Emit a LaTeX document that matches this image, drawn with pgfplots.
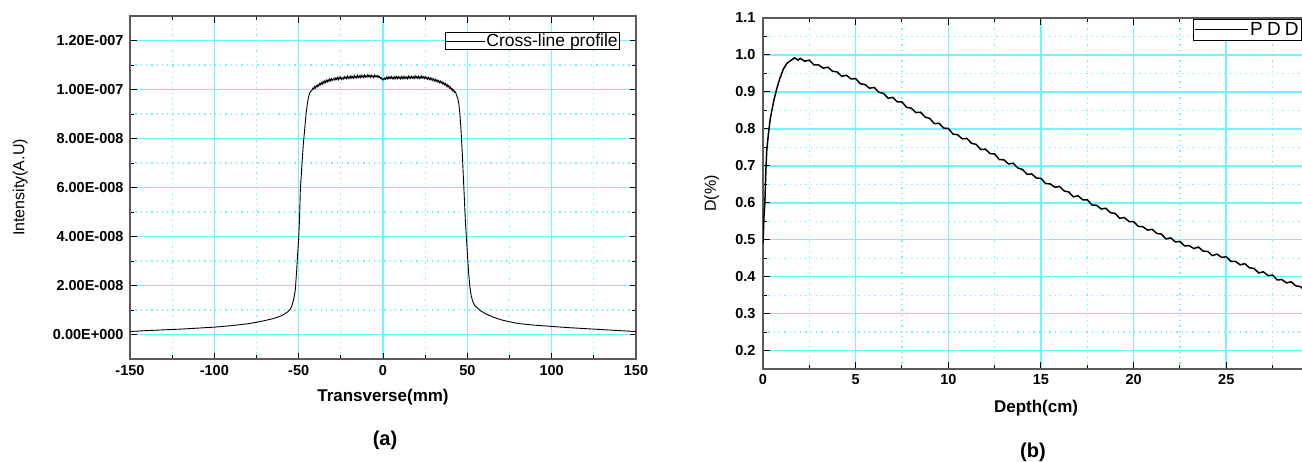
\documentclass[border=0pt]{standalone}
\usepackage{fontspec}
\setmainfont{Liberation Sans}
\usepackage{pgfplots}
\pgfplotsset{compat=1.18}
\definecolor{gridc}{RGB}{110,245,255}
\definecolor{axc}{RGB}{90,90,90}
\pgfplotsset{
  mystyle/.style={
    scale only axis,
    axis line style={axc, line width=1.3pt},
    major tick style={black, line width=1pt},
    minor tick style={black, line width=1pt},
    major tick length=6.5pt, minor tick length=4pt,
    tick align=inside,
    grid=both,
    every axis grid/.style={draw=gridc},
    major grid style={draw=gridc, line width=1.6pt},
    minor grid style={draw=gridc, line width=1.2pt, dash pattern=on 1.3pt off 4pt},
    /pgf/number format/assume math mode=true,
    ticklabel style={font=\fontsize{14.5}{14.5}\selectfont\bfseries},
  }
}
\pgfplotstableread{
x y
-150 0.12
-140 0.16
-130 0.19
-120 0.22
-110 0.26
-100 0.30
-90 0.36
-80 0.44
-75 0.50
-70 0.57
-65 0.65
-60 0.77
-57 0.90
-55 1.02
-54 1.18
-53 1.42
-52 1.82
-51.2 2.6
-50.5 3.4
-50 3.9
-49.5 4.7
-49 5.9
-48 7.0
-47.2 7.8
-46.4 8.4
-45.6 9.0
-45 9.35
-44.3 9.65
-43.5 9.85
-42.5 9.95
-42 9.98
-41.5 10.06
-41 10.02
-40.5 10.12
-40 10.06
-39.5 10.16
-39 10.11
-38.5 10.20
-38 10.14
-37.5 10.25
-37 10.19
-36.5 10.28
-36 10.22
-35.5 10.33
-35 10.25
-34.5 10.35
-34 10.28
-33.5 10.38
-33 10.31
-32.5 10.40
-32 10.33
-31.5 10.43
-31 10.35
-30.5 10.44
-30 10.37
-29 10.46
-28.5 10.38
-28 10.47
-27.5 10.41
-27 10.49
-26.5 10.40
-26 10.50
-25.5 10.43
-25 10.52
-24.5 10.41
-24 10.47
-23.5 10.43
-23 10.53
-22.5 10.45
-22 10.51
-21.5 10.44
-21 10.55
-20.5 10.46
-20 10.52
-19.5 10.45
-19 10.56
-18.5 10.47
-18 10.53
-17.5 10.46
-17 10.57
-16.5 10.48
-16 10.54
-15.5 10.47
-15 10.58
-14.5 10.49
-14 10.55
-13.5 10.48
-13 10.59
-12.5 10.50
-12 10.56
-11.5 10.49
-11 10.59
-10.5 10.51
-10 10.57
-9.5 10.50
-9 10.60
-8.5 10.52
-8 10.57
-7.5 10.50
-7 10.59
-6.5 10.51
-6 10.56
-5.5 10.49
-5 10.59
-4.5 10.52
-4 10.56
-3.5 10.50
-3 10.57
-2.5 10.49
-2 10.53
-1.5 10.45
-1 10.48
-0.5 10.40
0 10.44
0.5 10.39
1 10.47
1.5 10.42
2 10.50
2.5 10.43
3 10.52
3.5 10.44
4 10.51
4.5 10.45
5 10.53
5.5 10.44
6 10.50
6.5 10.43
7 10.53
7.5 10.45
8 10.52
8.5 10.44
9 10.53
9.5 10.45
10 10.51
10.5 10.43
11 10.53
11.5 10.45
12 10.52
12.5 10.44
13 10.53
13.5 10.45
14 10.51
14.5 10.44
15 10.55
15.5 10.46
16 10.53
16.5 10.45
17 10.54
17.5 10.46
18 10.52
18.5 10.45
19 10.56
19.5 10.47
20 10.53
20.5 10.46
21 10.54
21.5 10.45
22 10.52
22.5 10.46
23 10.56
23.5 10.47
24 10.52
24.5 10.45
25 10.53
25.5 10.44
26 10.50
26.5 10.42
27 10.49
27.5 10.41
28 10.47
28.5 10.39
29 10.46
29.5 10.37
30 10.43
30.5 10.35
31 10.42
31.5 10.33
32 10.39
32.5 10.31
33 10.37
33.5 10.28
34 10.34
34.5 10.26
35 10.32
35.5 10.22
36 10.28
36.5 10.19
37 10.25
37.5 10.14
38 10.21
38.5 10.10
39 10.16
39.5 10.05
40 10.10
40.5 9.99
41 10.04
41.5 9.93
42 9.98
42.5 9.88
43 9.90
43.7 9.75
44.4 9.62
45 9.40
45.6 9.0
46.3 8.3
47 7.4
47.6 6.5
48.2 5.6
48.8 4.7
49.5 3.9
50.2 3.1
50.8 2.5
51.5 1.95
52.3 1.58
53.2 1.35
54.5 1.18
56 1.08
58 0.96
61 0.84
65 0.72
70 0.60
75 0.52
80 0.45
90 0.38
100 0.33
110 0.28
120 0.24
130 0.20
140 0.16
150 0.12
}\profile
\pgfplotstableread{
x y
0 0.49
0.05 0.56
0.1 0.60
0.15 0.68
0.2 0.74
0.3 0.79
0.4 0.83
0.5 0.855
0.6 0.88
0.75 0.91
0.9 0.935
1.1 0.962
1.3 0.978
1.5 0.985
1.7 0.992
1.9 0.986
2.0 0.991
2.25 0.983
2.5 0.986
2.75 0.973
3.0 0.973
3.25 0.964
3.5 0.967
3.75 0.956
4.0 0.954
4.25 0.942
4.5 0.945
4.75 0.935
5.0 0.936
5.25 0.922
5.5 0.920
5.75 0.910
6.0 0.912
6.25 0.899
6.5 0.896
6.75 0.883
7.0 0.885
7.25 0.873
7.5 0.873
7.75 0.858
8.0 0.856
8.25 0.844
8.5 0.845
8.75 0.832
9.0 0.828
9.25 0.814
9.5 0.815
9.75 0.802
10 0.801
10.25 0.786
10.5 0.784
10.75 0.773
11 0.774
11.25 0.761
11.5 0.758
11.75 0.744
12 0.745
12.25 0.733
12.5 0.732
12.75 0.717
13 0.716
13.25 0.705
13.5 0.707
13.75 0.694
14 0.690
14.25 0.677
14.5 0.678
14.75 0.667
15 0.666
15.25 0.652
15.5 0.651
15.75 0.642
16 0.644
16.25 0.632
16.5 0.629
16.75 0.616
17 0.619
17.25 0.608
17.5 0.608
17.75 0.594
18 0.593
18.25 0.583
18.5 0.585
18.75 0.573
19 0.571
19.25 0.558
19.5 0.560
19.75 0.549
20 0.549
20.25 0.536
20.5 0.535
20.75 0.526
21 0.528
21.25 0.517
21.5 0.515
21.75 0.502
22 0.505
22.25 0.494
22.5 0.495
22.75 0.483
23 0.484
23.25 0.476
23.5 0.480
23.75 0.469
24 0.468
24.25 0.457
24.5 0.461
24.75 0.452
25 0.454
25.25 0.441
25.5 0.441
25.75 0.432
26 0.435
26.25 0.424
26.5 0.422
26.75 0.410
27 0.413
27.25 0.403
27.5 0.404
27.75 0.391
28 0.392
28.25 0.383
28.5 0.386
28.75 0.375
29 0.373
29.25 0.361
}\pdd
\begin{document}
\begin{tikzpicture}
\begin{axis}[mystyle,
  at={(130pt,-16pt)}, anchor=north west, width=506pt, height=343pt,
  xmin=-150, xmax=150, ymin=-1, ymax=13,
  xtick={-150,-100,-50,0,50,100,150},
  minor xtick={-125,-75,-25,25,75,125},
  ytick={0,2,4,6,8,10,12},
  yticklabels={0.00E+000,2.00E-008,4.00E-008,6.00E-008,8.00E-008,1.00E-007,1.20E-007},
  minor ytick={-1,1,3,5,7,9,11,13},
  yticklabel style={xshift=-3pt},
  xticklabel style={yshift=-3pt},
  xlabel={Transverse(mm)},
  ylabel={\fontsize{16}{16}\selectfont Intensity(A.U)},
  xlabel style={font=\fontsize{17}{17}\selectfont\bfseries, at={(axis description cs:0.5,-0.111)}, anchor=center},
  ylabel style={at={(axis description cs:-0.217,0.5)}, anchor=center},
  legend style={at={(axis description cs:0.968,0.954)}, anchor=north east, draw=black, line width=0.8pt,
    font=\fontsize{17.5}{17.5}\selectfont, inner sep=0.5pt, nodes={inner sep=1.2pt}},
  legend image code/.code={\draw[black, line width=0.8pt] (0pt,0pt) -- (39pt,0pt);},
]
\addplot[black, line width=0.9pt] table[x=x,y=y] {\profile};
\addlegendentry{Cross-line profile}
\end{axis}
\begin{axis}[mystyle,
  at={(763pt,-18pt)}, anchor=north west, width=545pt, height=351pt,
  xmin=0, xmax=29.41, ymin=0.15, ymax=1.1,
  xtick={0,5,10,15,20,25},
  minor xtick={2.5,7.5,12.5,17.5,22.5,27.5},
  ytick={0.2,0.3,0.4,0.5,0.6,0.7,0.8,0.9,1.0,1.1},
  yticklabels={0.2,0.3,0.4,0.5,0.6,0.7,0.8,0.9,1.0,1.1},
  minor ytick={0.15,0.25,0.35,0.45,0.55,0.65,0.75,0.85,0.95,1.05},
  yticklabel style={xshift=-4pt},
  xticklabel style={yshift=-2pt},
  xlabel={Depth(cm)},
  ylabel={\fontsize{16}{16}\selectfont D(\%)},
  xlabel style={font=\fontsize{17}{17}\selectfont\bfseries, at={(axis description cs:0.501,-0.111)}, anchor=center},
  ylabel style={at={(axis description cs:-0.094,0.5)}, anchor=center},
  legend style={at={(axis description cs:0.789,0.997)}, anchor=north west, draw=black, line width=0.8pt,
    font=\fontsize{19}{19}\selectfont, inner sep=1pt, nodes={inner sep=2pt}},
  legend image code/.code={\draw[black, line width=0.8pt] (0pt,0pt) -- (53pt,0pt);},
]
\addplot[black, line width=1.5pt] table[x=x,y=y] {\pdd};
\addlegendentry{{\addfontfeature{LetterSpace=22}PDD\hspace{25pt}}}
\end{axis}
\node[font=\fontsize{20}{20}\selectfont\bfseries] at (385pt,-440pt) {(a)};
\node[font=\fontsize{20}{20}\selectfont\bfseries] at (1033pt,-452pt) {(b)};
\pgfresetboundingbox
\path[use as bounding box] (0pt,0pt) rectangle (1302pt,-461pt);
\end{tikzpicture}
\end{document}
